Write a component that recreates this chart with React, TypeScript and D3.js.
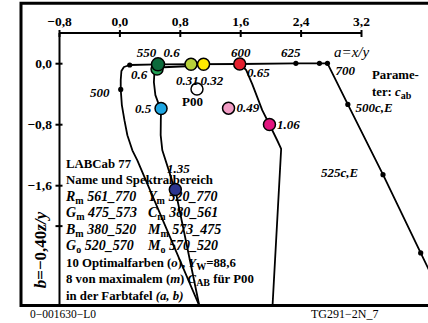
import React from "react";
import * as d3 from "d3";

const W = 428;
const H = 323;

const xTicks = [-0.8, 0, 0.8, 1.6, 2.4, 3.2];
const xTickLabels = ["−0,8", "0,0", "0,8", "1,6", "2,4", "3,2"];
const yTicks = [0, -0.8, -1.6, -2.13];
const yTickLabels = ["0,0", "−0,8", "−1,6", ""];

// a, b pairs
const baseLine: [number, number][] = [
  [0.13, -0.017], [0.51, -0.008], [1.594, -0.004], [2.33, 0.005], [2.643, 0.005], [2.749, 0.005],
];
const curve500: [number, number][] = [
  [0.13, -0.017], [0.053, -0.043], [0.02, -0.096], [0.011, -0.214], [0.011, -0.337],
  [0.026, -0.543], [0.06, -0.741], [0.099, -0.938], [0.165, -1.136], [0.231, -1.267], [1.052, -3.175], [1.1, -3.3],
];
const curve05: [number, number][] = [
  [0.503, -0.043], [0.456, -0.136], [0.45, -0.241], [0.47, -0.412], [0.509, -0.517], [0.545, -0.587],
  [0.542, -0.741], [0.54, -0.938], [0.562, -1.136], [0.69, -1.53], [0.734, -1.653], [1.052, -3.175], [1.07, -3.3],
];
const curve600: [number, number][] = [
  [1.594, -0.004], [1.673, -0.083], [1.753, -0.267], [1.819, -0.438], [1.885, -0.609], [1.981, -0.797],
  [2.083, -1.004], [2.136, -1.116], [2.021, -3.184], [2.015, -3.3],
];
const curve700: [number, number][] = [
  [2.749, 0.005], [3.019, -0.534], [3.485, -1.455], [3.984, -2.482], [4.24, -3.004],
];
const dots: [number, number][] = [
  [0.13, -0.017], [0.011, -0.337], [2.331, 0.005], [2.643, 0.005], [2.749, 0.005],
  [3.019, -0.534], [3.485, -1.455], [3.984, -2.482],
];
const circles: { a: number; b: number; c: string }[] = [
  { a: 0.492, b: -0.07, c: "#23a055" },
  { a: 0.505, b: -0.008, c: "#0b6a3b" },
  { a: 1.108, b: -0.008, c: "#ffea00" },
  { a: 0.942, b: -0.008, c: "#b7d13a" },
  { a: 1.587, b: -0.004, c: "#e5202e" },
  { a: 1.021, b: -0.333, c: "#ffffff" },
  { a: 0.545, b: -0.587, c: "#1ea6e2" },
  { a: 1.439, b: -0.583, c: "#f19cc4" },
  { a: 1.981, b: -0.797, c: "#e2157f" },
  { a: 0.734, b: -1.649, c: "#2c3590" },
];
const labels: { t: string; a: number; b: number; kind: string }[] = [
  { t: "550", a: 0.222, b: 0.092, kind: "it" },
  { t: "0.6", a: 0.577, b: 0.092, kind: "it" },
  { t: "0.6", a: 0.147, b: -0.201, kind: "it" },
  { t: "0.31", a: 0.743, b: -0.279, kind: "it" },
  { t: "0.32", a: 1.068, b: -0.279, kind: "it" },
  { t: "600", a: 1.471, b: 0.088, kind: "it" },
  { t: "625", a: 2.134, b: 0.088, kind: "it" },
  { t: "a=x/y", a: 2.836, b: 0.088, kind: "big" },
  { t: "700", a: 2.856, b: -0.142, kind: "it" },
  { t: "500c,E", a: 3.121, b: -0.627, kind: "it" },
  { t: "525c,E", a: 2.664, b: -1.492, kind: "it" },
  { t: "0.65", a: 1.683, b: -0.174, kind: "it" },
  { t: "0.49", a: 1.544, b: -0.633, kind: "it" },
  { t: "1.06", a: 2.081, b: -0.85, kind: "it" },
  { t: "P00", a: 0.822, b: -0.561, kind: "bold" },
  { t: "0.5", a: 0.2, b: -0.64, kind: "it" },
  { t: "500", a: -0.396, b: -0.437, kind: "it" },
  { t: "1.35", a: 0.624, b: -1.433, kind: "it" },
];
const rowsLeft = [["R", "m", "561_770"], ["G", "m", "475_573"], ["B", "m", "380_520"], ["G", "o", "520_570"]];
const rowsRight = [["Y", "m", "520_770"], ["C", "m", "380_561"], ["M", "m", "573_475"], ["M", "o", "570_520"]];

const FONT = "'Liberation Serif', 'Times New Roman', serif";

export default function App() {
  const x = d3.scaleLinear().domain([-0.8, 3.2]).range([59.5, 361.5]);
  const y = d3.scaleLinear().domain([0, -1.6]).range([63.7, 185.7]);
  const line = d3.line<[number, number]>().x((d) => x(d[0])).y((d) => y(d[1]));
  const plotLeft = 59.5, plotTop = 33, plotBottom = 305.5;
  const lx = 66, rx = 148, row0 = 167.5, dRow = 16.5;
  const fsL = 12.8;

  return (
    <svg width={W} height={H} style={{ position: "absolute", left: 0, top: 0, background: "#fff" }} fontFamily={FONT}>
      <defs>
        <clipPath id="plot">
          <rect x={plotLeft} y={plotTop} width={W - plotLeft} height={plotBottom - plotTop} />
        </clipPath>
      </defs>
      <rect x={0} y={0} width={W} height={H} fill="#fff" />
      {/* frame */}
      <path d={`M${W + 5},3.3 H21 V305.5 H${W + 5}`} fill="none" stroke="#000" strokeWidth={3} />
      {/* axes */}
      <line x1={plotLeft} x2={x(3.2)} y1={plotTop} y2={plotTop} stroke="#000" strokeWidth={2} />
      <line x1={plotLeft} x2={plotLeft} y1={plotTop} y2={plotBottom} stroke="#000" strokeWidth={2} />
      {xTicks.map((t, i) => (
        <g key={"xt" + i}>
          <line x1={x(t)} x2={x(t)} y1={plotTop - 3} y2={plotTop + 4} stroke="#000" strokeWidth={2} />
          <text x={x(t)} y={26} textAnchor="middle" fontWeight="bold" fontSize={13.5}>{xTickLabels[i]}</text>
        </g>
      ))}
      {yTicks.map((t, i) => (
        <g key={"yt" + i}>
          <line x1={plotLeft - 4} x2={plotLeft + 3} y1={y(t)} y2={y(t)} stroke="#000" strokeWidth={2} />
          <text x={52} y={y(t) + 4.5} textAnchor="end" fontWeight="bold" fontSize={13.5}>{yTickLabels[i]}</text>
        </g>
      ))}
      <text transform="translate(46,250) rotate(-90)" textAnchor="middle" fontWeight="bold" fontSize={17}>
        <tspan fontStyle="italic">b</tspan>=−0,40<tspan fontStyle="italic">z/y</tspan>
      </text>

      {/* legend block */}
      <g fontWeight="bold" fontSize={fsL}>
        <text x={lx} y={row0}>LABCab 77</text>
        <text x={lx} y={row0 + dRow}>Name und Spektralbereich</text>
        {rowsLeft.map((r, i) => (
          <text key={"rl" + i} x={lx} y={row0 + dRow * (i + 2)}>
            <tspan fontStyle="italic" fontSize={14}>{r[0]}</tspan>
            <tspan fontSize={10} dy={3}>{r[1]}</tspan>
            <tspan fontStyle="italic" fontSize={14} dy={-3}>{" " + r[2]}</tspan>
          </text>
        ))}
        {rowsRight.map((r, i) => (
          <text key={"rr" + i} x={rx} y={row0 + dRow * (i + 2)}>
            <tspan fontStyle="italic" fontSize={14}>{r[0]}</tspan>
            <tspan fontSize={10} dy={3}>{r[1]}</tspan>
            <tspan fontStyle="italic" fontSize={14} dy={-3}>{" " + r[2]}</tspan>
          </text>
        ))}
        <text x={lx} y={row0 + dRow * 6}>
          10 Optimalfarben (<tspan fontStyle="italic">o</tspan>), <tspan fontStyle="italic">Y</tspan>
          <tspan fontSize={10} dy={3}>W</tspan><tspan dy={-3}>=88,6</tspan>
        </text>
        <text x={lx} y={row0 + dRow * 7}>
          8 von maximalem (<tspan fontStyle="italic">m</tspan>) <tspan fontStyle="italic">C</tspan>
          <tspan fontSize={10} dy={3}>AB</tspan><tspan dy={-3}> für P00</tspan>
        </text>
        <text x={lx} y={row0 + dRow * 8}>
          in der Farbtafel <tspan fontStyle="italic">(a, b)</tspan>
        </text>
      </g>

      <g clipPath="url(#plot)" fill="none" stroke="#000" strokeWidth={1.8} strokeLinejoin="round">
        <path d={line(baseLine) || ""} />
        <path d={line([[0.505, -0.05], [0.95, -0.03]]) || ""} />
        <path d={line(curve500) || ""} />
        <path d={line(curve05) || ""} />
        <path d={line(curve600) || ""} />
        <path d={line(curve700) || ""} />
      </g>
      <g clipPath="url(#plot)">
        {dots.map((d, i) => (
          <circle key={"d" + i} cx={x(d[0])} cy={y(d[1])} r={2.6} fill="#000" />
        ))}
        {circles.map((c, i) => (
          <circle key={"c" + i} cx={x(c.a)} cy={y(c.b)} r={i === 1 ? 6.5 : 6} fill={c.c} stroke="#000" strokeWidth={1.5} />
        ))}
      </g>

      {labels.map((l, i) => (
        <text
          key={"l" + i}
          x={x(l.a)}
          y={y(l.b)}
          fontSize={l.kind === "big" ? 15 : 13}
          fontStyle={l.kind === "bold" ? "normal" : "italic"}
          fontWeight={l.kind === "big" ? "normal" : "bold"}
        >
          {l.t}
        </text>
      ))}
      <text x={x(3.339)} y={y(-0.201)} fontWeight="bold" fontSize={12.8}>Parame-</text>
      <text x={x(3.339)} y={y(-0.43)} fontWeight="bold" fontSize={12.8}>
        ter: <tspan fontStyle="italic">c</tspan><tspan fontSize={10} dy={3}>ab</tspan>
      </text>

      <text x={30} y={318} fontSize={11.5}>0−001630−L0</text>
      <text x={311} y={318} fontSize={12}>TG291−2N_7</text>
    </svg>
  );
}
